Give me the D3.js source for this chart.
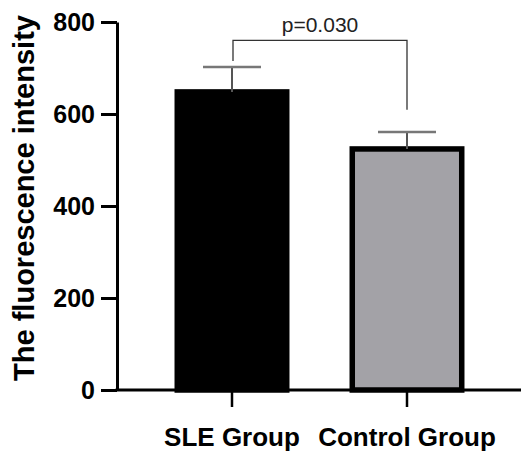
<!DOCTYPE html>
<html>
<head>
<meta charset="utf-8">
<script src="https://cdn.jsdelivr.net/npm/d3@7"></script>
<style>
  body { margin: 0; background: #fff; }
  text { font-family: "Liberation Sans", Arial, sans-serif; }
</style>
</head>
<body>
<div id="chart"></div>
<script>
var groups = ["SLE Group", "Control Group"];
var means = [648, 524];
var errors = [54, 37];
var yTicks = [0, 200, 400, 600, 800];
var pLabel = "p=0.030";
var pBracket = [760, 715, 609]; // top, left leg end, right leg end (data units)

var width = 521, height = 452;
var svg = d3.select("#chart").append("svg")
    .attr("width", width)
    .attr("height", height);

var x = d3.scaleBand().domain(groups)
    .range([144.5, 494.5])
    .paddingInner(0.343)
    .paddingOuter(0.1715);
var y = d3.scaleLinear().domain([0, 800]).range([390, 22]);

// bars
svg.selectAll("rect.bar")
    .data(groups)
    .enter().append("rect")
    .attr("class", "bar")
    .attr("x", function(d) { return x(d) + 2.75; })
    .attr("width", x.bandwidth() - 5.5)
    .attr("y", function(d, i) { return y(means[i]); })
    .attr("height", function(d, i) { return y(0) - y(means[i]); })
    .attr("fill", function(d, i) { return i === 0 ? "#000" : "#a3a2a7"; })
    .attr("stroke", "#000")
    .attr("stroke-width", 5.5);

// error bars
var err = svg.append("g");
groups.forEach(function(g, i) {
  var cx = x(g) + x.bandwidth() / 2;
  err.append("line")
      .attr("x1", cx).attr("x2", cx)
      .attr("y1", y(means[i])).attr("y2", y(means[i] + errors[i]))
      .attr("stroke", "#555").attr("stroke-width", 2);
  err.append("line")
      .attr("x1", cx - 29).attr("x2", cx + 29)
      .attr("y1", y(means[i] + errors[i])).attr("y2", y(means[i] + errors[i]))
      .attr("stroke", "#777").attr("stroke-width", 2.5);
});

// axes
var yAxis = svg.append("g")
    .attr("transform", "translate(117,0)")
    .call(d3.axisLeft(y).tickValues(yTicks).tickSize(16).tickPadding(6).tickSizeOuter(0));
yAxis.select(".domain").attr("stroke-width", 3);
yAxis.selectAll(".tick line").attr("stroke-width", 3);
yAxis.selectAll(".tick text")
    .attr("font-size", 25).attr("font-weight", "bold")
    .attr("fill", "#000")
    .style("font-family", "'Liberation Sans', Arial, sans-serif");

var xAxis = svg.append("g")
    .attr("transform", "translate(0," + y(0) + ")")
    .call(d3.axisBottom(x).tickSize(17).tickPadding(21).tickSizeOuter(0));
xAxis.select(".domain").attr("d", "M115.5,0H521").attr("stroke-width", 3);
xAxis.selectAll(".tick line").attr("stroke-width", 2.5);
xAxis.selectAll(".tick text")
    .attr("font-size", 26).attr("font-weight", "bold")
    .attr("fill", "#000")
    .style("font-family", "'Liberation Sans', Arial, sans-serif");

// y title
svg.append("text")
    .attr("transform", "translate(34," + 198 + ") rotate(-90)")
    .attr("text-anchor", "middle")
    .attr("font-size", 29)
    .attr("font-weight", "bold")
    .text("The fluorescence intensity");

// significance bracket
var x1 = x(groups[0]) + x.bandwidth() / 2 + 1;
var x2 = x(groups[1]) + x.bandwidth() / 2;
svg.append("path")
    .attr("d", "M" + x1 + "," + y(pBracket[1]) + "V" + y(pBracket[0]) +
               "H" + x2 + "V" + y(pBracket[2]))
    .attr("fill", "none")
    .attr("stroke", "#333")
    .attr("stroke-width", 1.3);
svg.append("text")
    .attr("x", (x1 + x2) / 2 + 0)
    .attr("y", y(pBracket[0]) - 8)
    .attr("text-anchor", "middle")
    .attr("font-size", 21)
    .attr("fill", "#222")
    .text(pLabel);
</script>
</body>
</html>
